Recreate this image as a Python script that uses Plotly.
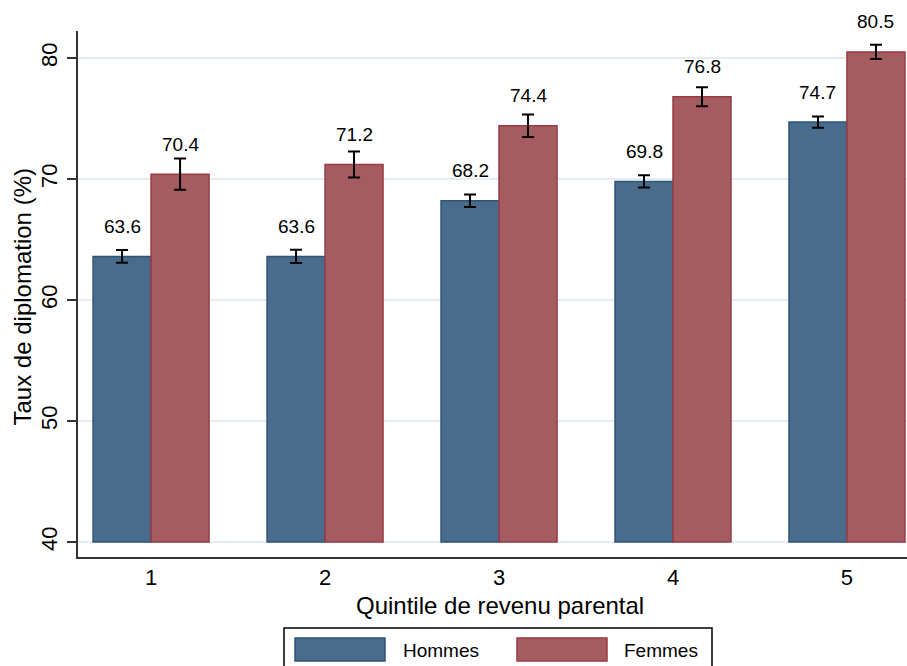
import plotly.graph_objects as go

# Graduation rate by parental income quintile, men vs women
quintiles = [1, 2, 3, 4, 5]
tick_labels = ["1", "2", "3", "4", "5"]
hommes = [63.6, 63.6, 68.2, 69.8, 74.7]
femmes = [70.4, 71.2, 74.4, 76.8, 80.5]
hommes_err = [0.53, 0.55, 0.52, 0.51, 0.47]
femmes_err = [1.29, 1.07, 0.93, 0.79, 0.59]

BASE = 40
FONT = "Liberation Sans, Arial, sans-serif"
H_FILL, H_LINE = "#496b8c", "#2e5478"
F_FILL, F_LINE = "#a55c60", "#9a3a45"

W, H = 907, 666
ML, MR, MT, MB = 78, 0, 31, 109
PW, PH = W - ML - MR, H - MT - MB

def px(x):
    return (x - ML) / PW

def py(y):
    return (H - MB - y) / PH

half = 1 / 6  # half the width of one bar in category units

fig = go.Figure()
fig.add_bar(
    x=quintiles, y=[v - BASE for v in hommes], base=BASE, name="Hommes",
    marker=dict(color=H_FILL, line=dict(color=H_LINE, width=1.5)),
)
fig.add_bar(
    x=quintiles, y=[v - BASE for v in femmes], base=BASE, name="Femmes",
    marker=dict(color=F_FILL, line=dict(color=F_LINE, width=1.5)),
)

# confidence intervals
for offs, vals, errs in [(-half, hommes, hommes_err), (half, femmes, femmes_err)]:
    fig.add_scatter(
        x=[q + offs for q in quintiles], y=vals, mode="markers",
        marker=dict(opacity=0, size=1),
        error_y=dict(type="data", array=errs, color="black", thickness=2, width=6),
        showlegend=False, hoverinfo="skip",
    )

# value labels above the bars
annotations = []
for offs, vals in [(-half, hommes), (half, femmes)]:
    for q, v in zip(quintiles, vals):
        annotations.append(dict(
            x=q + offs, y=v, xref="x", yref="y", text=f"{v:.1f}",
            showarrow=False, yshift=30, yanchor="middle",
            font=dict(family=FONT, size=19, color="black"),
        ))

# axis titles
annotations.append(dict(
    x=px(500), y=py(590), xref="paper", yref="paper",
    text="Quintile de revenu parental", showarrow=False,
    xanchor="center", yanchor="top",
    font=dict(family=FONT, size=24, color="black"),
))
annotations.append(dict(
    x=px(6), y=py(297), xref="paper", yref="paper",
    text="Taux de diplomation (%)", showarrow=False, textangle=-90,
    xanchor="left", yanchor="middle",
    font=dict(family=FONT, size=24, color="black"),
))

# legend box drawn below the plot
shapes = [
    dict(type="rect", xref="paper", yref="paper",
         x0=px(284), x1=px(712), y0=py(672), y1=py(628),
         line=dict(color="black", width=1.5), fillcolor="white", layer="above"),
    dict(type="rect", xref="paper", yref="paper",
         x0=px(295), x1=px(385), y0=py(661), y1=py(638),
         line=dict(color=H_LINE, width=1.5), fillcolor=H_FILL, layer="above"),
    dict(type="rect", xref="paper", yref="paper",
         x0=px(517), x1=px(607), y0=py(661), y1=py(638),
         line=dict(color=F_LINE, width=1.5), fillcolor=F_FILL, layer="above"),
]
for label, xl in [("Hommes", 401), ("Femmes", 622)]:
    annotations.append(dict(
        x=px(xl), y=py(650), xref="paper", yref="paper", text=label,
        showarrow=False, xanchor="left", yanchor="middle",
        font=dict(family=FONT, size=19, color="black"),
    ))

fig.update_layout(
    width=W, height=H,
    margin=dict(l=ML, r=MR, t=MT, b=MB),
    paper_bgcolor="white", plot_bgcolor="white",
    barmode="group", bargap=1 / 3, bargroupgap=0,
    showlegend=False,
    font=dict(family=FONT, color="black"),
    annotations=annotations, shapes=shapes,
    xaxis=dict(
        range=[0.58, 5.345], tickvals=quintiles, ticktext=tick_labels,
        showgrid=False, zeroline=False, ticks="",
        showline=True, linecolor="#333333", linewidth=1.5,
        tickfont=dict(size=22), ticklabelstandoff=0,
    ),
    yaxis=dict(
        range=[38.76, 82.23], tickvals=[40, 50, 60, 70, 80],
        showgrid=True, gridcolor="#e6edf2", gridwidth=2, zeroline=False,
        ticks="outside", ticklen=9, tickwidth=1.5, tickcolor="#333333",
        showline=True, linecolor="#333333", linewidth=1.5,
        tickangle=-90, tickfont=dict(size=22), ticklabelstandoff=1,
    ),
)

fig.write_html("out.html")
